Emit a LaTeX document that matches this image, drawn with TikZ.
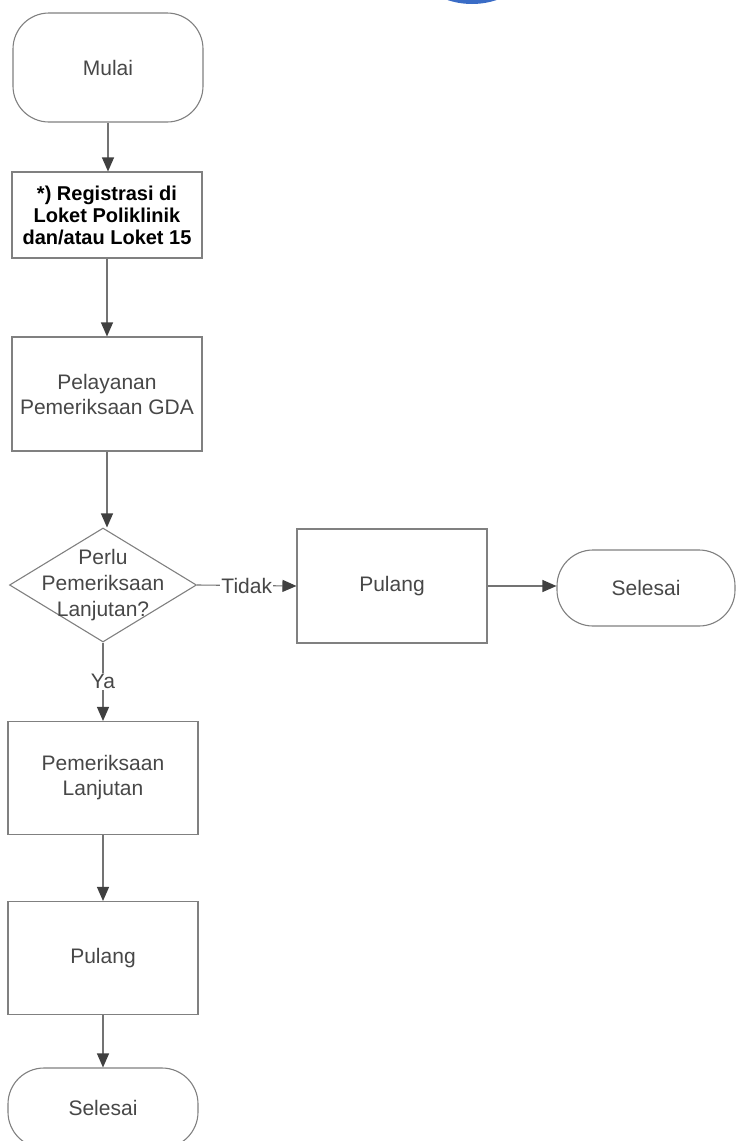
\documentclass[tikz,border=0pt]{standalone}
\usepackage{fontspec}
\setmainfont{Liberation Sans}
\usetikzlibrary{shapes.geometric,arrows.meta}
\definecolor{blob}{RGB}{58,108,198}

\begin{document}
\begin{tikzpicture} [x=1pt,y=1pt,
box/.style={draw=black!50,line width=1.1pt,rectangle,minimum width=190pt,minimum height=114pt,
            inner sep=0pt,align=center,text=black!72,font=\fontsize{21}{25}\selectfont},
term/.style={box,rounded corners=36pt},
decide/.style={box,diamond,minimum width=187pt,minimum height=114pt},
flow/.style={draw=black!55,line width=1.1pt,-{Triangle[width=12pt,length=14pt,color=black!75]}},
lbl/.style={fill=white,inner sep=1pt,text=black!72,font=\fontsize{21}{24}\selectfont},
]
    \useasboundingbox (0,0) rectangle (737,-1141);
    \fill [blob] (472,73) circle (77);

    \node [term] (mulai) at (108,-67.5) [minimum height=109pt] {Mulai};
    \node [box, minimum height=86pt, text=black, font=\bfseries\fontsize{20}{22}\selectfont]
                (registrasi) at (107,-215) {*) Registrasi di\\Loket Poliklinik\\dan/atau Loket 15};
    \node [box] (pelayanan) at (107,-394) {Pelayanan\\Pemeriksaan GDA};
    \node [decide] (perlu) at (103,-585) {};
    \node [lbl, fill=none, align=center, font=\fontsize{21}{26}\selectfont]
                (perlutext) at (perlu.center) {Perlu\\Pemeriksaan\\Lanjutan?};
    \node [box] (pulangA) at (392,-586) {Pulang};
    \node [term, minimum width=178pt, minimum height=76pt] (selesaiA) at (646,-588) {Selesai};
    \node [box, minimum height=113pt] (lanjutan) at (103,-778) {Pemeriksaan\\Lanjutan};
    \node [box, minimum height=113pt] (pulangB) at (103,-958) {Pulang};
    \node [term, minimum height=80pt] (selesaiB) at (103,-1108) {Selesai};

    \draw [flow] (mulai.south) -- (mulai.south |- registrasi.north);
    \draw [flow] (registrasi.south) -- (pelayanan.north);
    \draw [flow] (pelayanan.south) -- (pelayanan.south |- perlu.north);
    \draw [flow] (perlu.east) -- node [lbl] {Tidak} (pulangA.west);
    \draw [flow] (pulangA.east) -- (pulangA.east -| selesaiA.west);
    \draw [flow] (perlu.south) -- node [lbl] {Ya} (lanjutan.north);
    \draw [flow] (lanjutan.south) -- (pulangB.north);
    \draw [flow] (pulangB.south) -- (selesaiB.north);
\end{tikzpicture}
\end{document}
